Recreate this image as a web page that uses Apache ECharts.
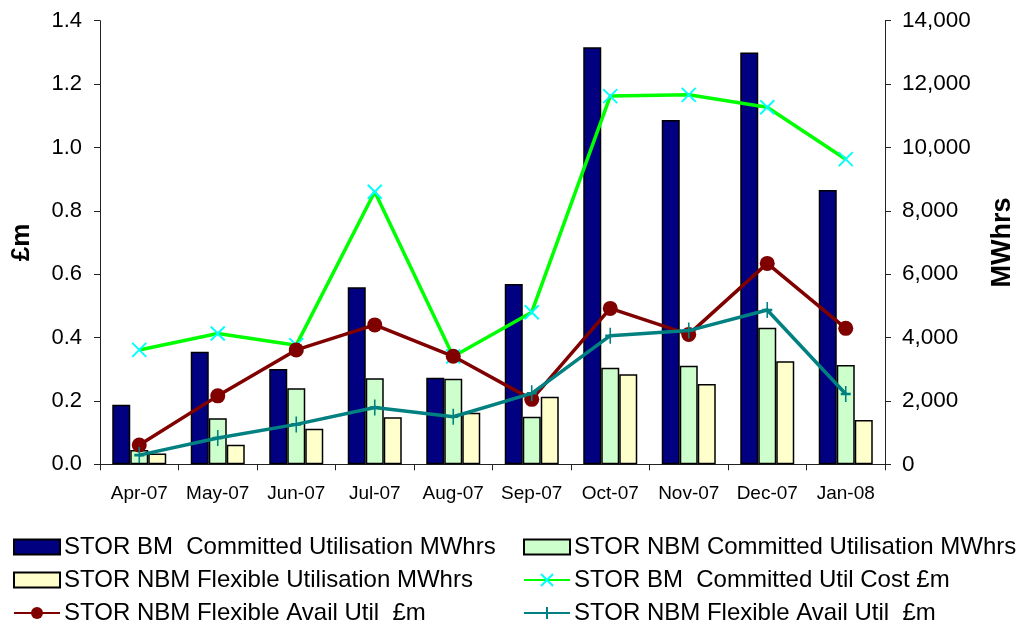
<!DOCTYPE html>
<html><head><meta charset="utf-8">
<script src="https://cdn.jsdelivr.net/npm/echarts@6/dist/echarts.min.js"></script>
<style>html,body{margin:0;padding:0;background:#fff}#c{width:1018px;height:625px}</style>
</head><body><div id="c"></div>
<script>
var categories = ['Apr-07','May-07','Jun-07','Jul-07','Aug-07','Sep-07','Oct-07','Nov-07','Dec-07','Jan-08'];
var bmCommittedMWh = [1880, 3555, 3010, 5585, 2735, 5690, 13160, 10865, 13000, 8655];
var nbmCommittedMWh = [450, 1450, 2400, 2715, 2700, 1500, 3050, 3110, 4310, 3135];
var nbmFlexibleMWh = [340, 620, 1125, 1485, 1630, 2135, 2840, 2535, 3250, 1400];
var bmCommittedCost = [0.361, 0.413, 0.376, 0.860, 0.340, 0.480, 1.162, 1.166, 1.127, 0.963];
var nbmFlexAvailA = [0.061, 0.216, 0.361, 0.440, 0.341, 0.205, 0.492, 0.410, 0.634, 0.429];
var nbmFlexAvailB = [0.029, 0.083, 0.126, 0.179, 0.150, 0.224, 0.406, 0.422, 0.487, 0.222];
var leftTicks = [0, 0.2, 0.4, 0.6, 0.8, 1.0, 1.2, 1.4];
var rightTicks = [0, 2000, 4000, 6000, 8000, 10000, 12000, 14000];

var names = ['STOR BM  Committed Utilisation MWhrs','STOR NBM Committed Utilisation MWhrs','STOR NBM Flexible Utilisation MWhrs','STOR BM  Committed Util Cost £m','STOR NBM Flexible Avail Util  £m','STOR NBM Flexible Avail Util  £m '];
var FONT = 'Liberation Sans, Arial, sans-serif';
var chart = echarts.init(document.getElementById('c'));
var txt = {fontFamily: FONT, fontSize: 24, color: '#000'};
function lg(i, left, top, icon) {
  var o = {data: [names[i]], left: left, top: top, itemWidth: 46, itemHeight: 15, itemGap: 0,
    padding: 0, textStyle: Object.assign({padding:[0,0,0,-1]}, txt), selectedMode: false};
  if (icon) o.icon = icon;
  return o;
}
var option = {
  animation: false,
  backgroundColor: '#fff',
  grid: {left: 100, right: 133, top: 20.7, bottom: 160.7, containLabel: false, outerBoundsMode: 'none'},
  legend: [lg(0, 13, 535, 'rect'), lg(1, 523, 535, 'rect'), lg(2, 13, 568, 'rect'), lg(3, 523, 568), lg(4, 13, 601), lg(5, 523, 601)],
  xAxis: {type: 'category', data: categories, boundaryGap: true,
    axisLine: {lineStyle: {color: '#222', width: 1}},
    axisTick: {show: true, alignWithLabel: false, interval: 0, length: 6, lineStyle: {color: '#222'}},
    axisLabel: {fontFamily: FONT, fontSize: 19, color: '#000', margin: 20, interval: 0, hideOverlap: false}},
  yAxis: [
    {type: 'value', min: 0, max: 1.4, interval: 0.2, name: '£m', nameLocation: 'middle', nameGap: 65,
     nameTextStyle: {fontFamily: FONT, fontSize: 26, fontWeight: 'bold', color: '#000'},
     axisLine: {show: true, lineStyle: {color: '#222'}}, axisTick: {show: true, length: 6, lineStyle: {color: '#222'}},
     splitLine: {show: false},
     axisLabel: {fontFamily: FONT, fontSize: 22, color: '#000', margin: 18,
       formatter: function (v) { return leftTicks.indexOf(+v.toFixed(1)) >= 0 ? v.toFixed(1) : ''; }}},
    {type: 'value', min: 0, max: 14000, interval: 2000, name: 'MWhrs', nameLocation: 'middle', nameGap: 104,
     nameTextStyle: {fontFamily: FONT, fontSize: 27, fontWeight: 'bold', color: '#000'},
     axisLine: {show: true, lineStyle: {color: '#222'}}, axisTick: {show: true, length: 6, inside: false, lineStyle: {color: '#222'}},
     splitLine: {show: false},
     axisLabel: {fontFamily: FONT, fontSize: 22.5, color: '#000', margin: 17,
       formatter: function (v) { return rightTicks.indexOf(v) >= 0 ? v.toLocaleString('en-US') : ''; }}}
  ],
  series: [
    {name: names[0], type: 'bar', yAxisIndex: 1, data: bmCommittedMWh, barWidth: 18, barGap: '0%',
     itemStyle: {color: '#000080', borderColor: '#000', borderWidth: 1.5}},
    {name: names[1], type: 'bar', yAxisIndex: 1, data: nbmCommittedMWh, barWidth: 18, barGap: '0%',
     itemStyle: {color: '#CCFFCC', borderColor: '#000', borderWidth: 1.5}},
    {name: names[2], type: 'bar', yAxisIndex: 1, data: nbmFlexibleMWh, barWidth: 18, barGap: '0%',
     itemStyle: {color: '#FFFFCC', borderColor: '#000', borderWidth: 1.5}},
    {name: names[3], type: 'line', yAxisIndex: 0, data: bmCommittedCost, z: 3,
     symbol: 'path://M0,0L10,10M10,0L0,10', symbolSize: 14, showAllSymbol: true,
     lineStyle: {color: '#00FF00', width: 3.5},
     itemStyle: {color: 'rgba(0,0,0,0)', borderColor: '#00FFFF', borderWidth: 2}},
    {name: names[4], type: 'line', yAxisIndex: 0, data: nbmFlexAvailA, z: 4,
     symbol: 'circle', symbolSize: 15, showAllSymbol: true,
     lineStyle: {color: '#800000', width: 3.5},
     itemStyle: {color: '#800000', borderColor: '#800000', borderWidth: 0}},
    {name: names[5], type: 'line', yAxisIndex: 0, data: nbmFlexAvailB, z: 5,
     symbol: 'path://M5,0L5,16M0,8L10,8', symbolSize: [10, 16], showAllSymbol: true,
     lineStyle: {color: '#008080', width: 3.5},
     itemStyle: {color: 'rgba(0,0,0,0)', borderColor: '#008080', borderWidth: 2}}
  ]
};
chart.setOption(option);
</script></body></html>
